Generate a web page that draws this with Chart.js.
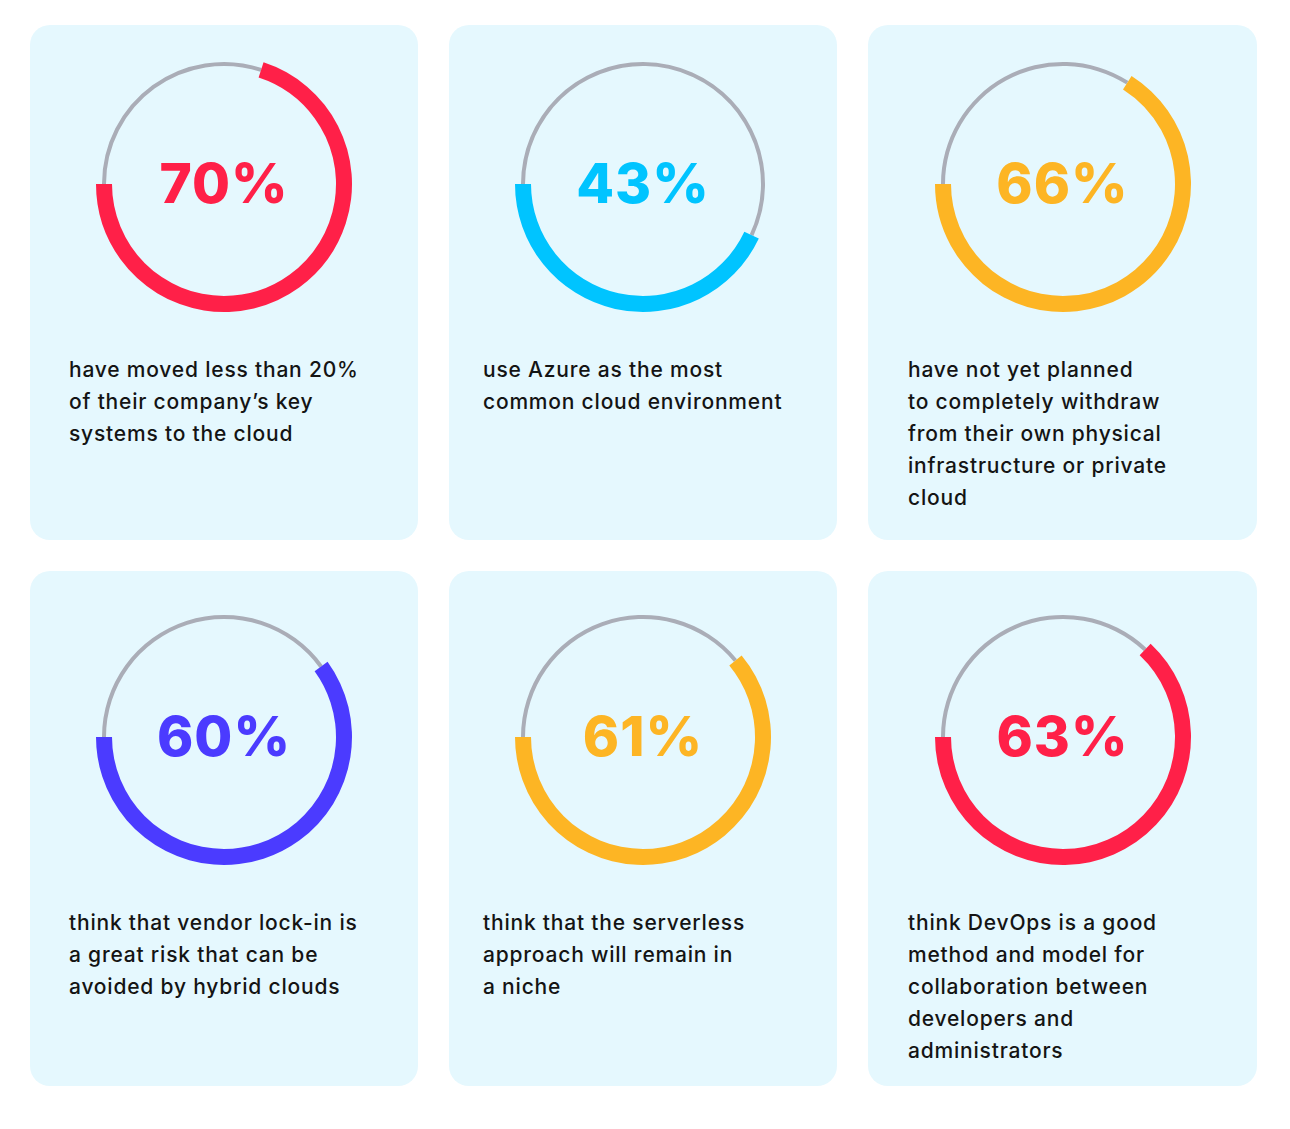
<!DOCTYPE html>
<html>
<head>
<meta charset="utf-8">
<script src="https://cdn.jsdelivr.net/npm/chart.js@4.4.1/dist/chart.umd.min.js"></script>
<style>
  html, body { margin: 0; padding: 0; background: #ffffff; }
  body { width: 1290px; height: 1129px; position: relative; overflow: hidden; }
  .card { position: absolute; background: #E5F8FE; border-radius: 20px; }
  .ring { position: absolute; width: 270px; height: 270px; }
  .ring canvas { position: absolute; left: 0; top: 0; }
  .pct { position: absolute; width: 270px; text-align: center; font-family: Inter, "Noto Sans", sans-serif;
         font-weight: 800; font-size: 55px; line-height: 60px; letter-spacing: 1px; }
  .desc { position: absolute; font-family: Inter, "Noto Sans", sans-serif; font-weight: 500; font-size: 21px;
          letter-spacing: 0.8px; line-height: 32px; color: #141414; white-space: nowrap; }
</style>
</head>
<body>
<script>
// ---- data ----
const values = [70, 43, 66, 60, 61, 63];
const valueLabels = ["70%", "43%", "66%", "60%", "61%", "63%"];
const descriptions = [
  ["have moved less than 20%", "of their company\u2019s key", "systems to the cloud"],
  ["use Azure as the most", "common cloud environment"],
  ["have not yet planned", "to completely withdraw", "from their own physical", "infrastructure or private", "cloud"],
  ["think that vendor lock-in is", "a great risk that can be", "avoided by hybrid clouds"],
  ["think that the serverless", "approach will remain in", "a niche"],
  ["think DevOps is a good", "method and model for", "collaboration between", "developers and", "administrators"]
];

// ---- styles / layout ----
const colors = ["#FF2048", "#00C4FF", "#FDB524", "#4B3BFF", "#FDB524", "#FF2048"];
const grayColor = "#AAADB7";
const cardX = [30, 449, 868];
const cardW = [388, 388, 389];
const cardY = [25, 571];
const cardH = 515;
const ringCX = [224, 643, 1062.5];
const ringCY = [184, 737];
const textX = [69, 483, 908];
const textTop = [354, 907];

values.forEach((v, i) => {
  const col = i % 3, row = Math.floor(i / 3);
  const card = document.createElement('div');
  card.className = 'card';
  card.style.left = cardX[col] + 'px';
  card.style.top = cardY[row] + 'px';
  card.style.width = cardW[col] + 'px';
  card.style.height = cardH + 'px';
  document.body.appendChild(card);

  const ring = document.createElement('div');
  ring.className = 'ring';
  ring.style.left = (ringCX[col] - 135) + 'px';
  ring.style.top = (ringCY[row] - 135) + 'px';
  const c1 = document.createElement('canvas');
  const c2 = document.createElement('canvas');
  [c1, c2].forEach(c => { c.width = 270; c.height = 270; c.style.width = '270px'; c.style.height = '270px'; ring.appendChild(c); });
  document.body.appendChild(ring);

  const common = {
    responsive: false,
    maintainAspectRatio: false,
    devicePixelRatio: 1,
    animation: false,
    events: [],
    rotation: -90,
    layout: { padding: 0 },
    plugins: { legend: { display: false }, tooltip: { enabled: false } }
  };

  new Chart(c1, {
    type: 'doughnut',
    data: { datasets: [{ data: [100 - v, v], backgroundColor: [grayColor, 'rgba(0,0,0,0)'], borderWidth: 0 }] },
    options: Object.assign({}, common, { radius: 122, cutout: (118 / 122 * 100) + '%' })
  });
  new Chart(c2, {
    type: 'doughnut',
    data: { datasets: [{ data: [100 - v, v], backgroundColor: ['rgba(0,0,0,0)', colors[i]], borderWidth: 0 }] },
    options: Object.assign({}, common, { radius: 128, cutout: (112 / 128 * 100) + '%' })
  });

  const pct = document.createElement('div');
  pct.className = 'pct';
  pct.textContent = valueLabels[i];
  pct.style.color = colors[i];
  pct.style.left = (ringCX[col] - 135) + 'px';
  pct.style.top = (ringCY[row] - 31) + 'px';
  document.body.appendChild(pct);

  const d = document.createElement('div');
  d.className = 'desc';
  d.style.left = textX[col] + 'px';
  d.style.top = textTop[row] + 'px';
  d.innerHTML = descriptions[i].join('<br>');
  document.body.appendChild(d);
});
</script>
</body>
</html>
